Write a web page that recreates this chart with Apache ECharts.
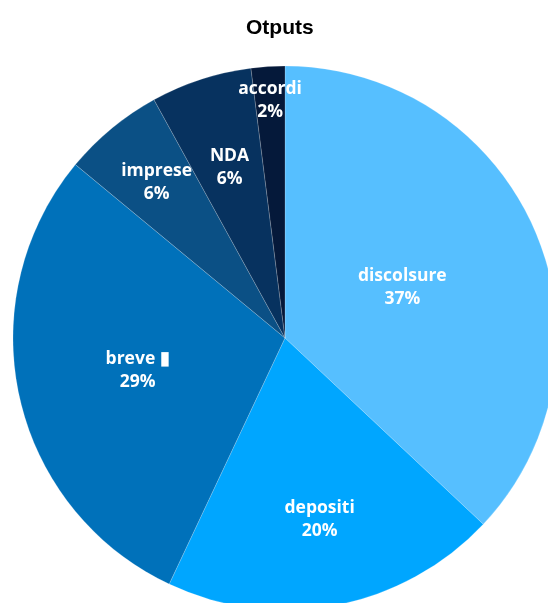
<!DOCTYPE html>
<html>
<head>
<meta charset="utf-8">
<style>
  html, body { margin: 0; padding: 0; background: #ffffff; }
  #chart { width: 548px; height: 603px; }
</style>
<script src="https://cdn.jsdelivr.net/npm/echarts@6/dist/echarts.min.js"></script>
</head>
<body>
<div id="chart"></div>
<script>
// Output shares by type, clockwise from 12 o'clock
const categories = ['discolsure', 'depositi', 'breve \u25AE', 'imprese', 'NDA', 'accordi'];
const shares = [37, 20, 29, 6, 6, 2];
const sliceColors = ['#56BFFF', '#00A6FF', '#0071BA', '#0B5085', '#07325F', '#05193A'];
// how far out (fraction of the radius) each label sits along its slice's mid-angle
const labelRadiusRatio = [0.47, 0.68, 0.555, 0.74, 0.66, 0.875];

const cx = 285, cy = 338, R = 272;

const chart = echarts.init(document.getElementById('chart'), null, { renderer: 'canvas' });

const total = shares.reduce((a, b) => a + b, 0);
const midAngles = [];
let acc = 0;
shares.forEach(v => {
  midAngles.push((acc + v / 2) / total * 2 * Math.PI);
  acc += v;
});

chart.setOption({
  backgroundColor: '#ffffff',
  animation: false,
  title: {
    text: 'Otputs',
    left: 241,
    top: 13,
    textStyle: {
      fontFamily: 'Liberation Sans, Arial, sans-serif',
      fontWeight: 'bold',
      fontSize: 21,
      color: '#000000'
    }
  },
  series: [{
    type: 'pie',
    center: [cx, cy],
    radius: [0, R],
    startAngle: 90,
    clockwise: true,
    avoidLabelOverlap: false,
    itemStyle: { borderColor: 'rgba(255,255,255,0.3)', borderWidth: 0.6 },
    label: {
      show: true,
      position: 'inside',
      formatter: p => p.name + '\n' + p.value + '%',
      color: '#ffffff',
      fontFamily: 'Open Sans, sans-serif',
      fontWeight: 'bold',
      fontSize: 17.5,
      lineHeight: 23,
      align: 'center'
    },
    labelLine: { show: false },
    labelLayout: function (params) {
      const i = params.dataIndex;
      const a = midAngles[i];
      const r = R * labelRadiusRatio[i];
      return {
        x: cx + r * Math.sin(a),
        y: cy - r * Math.cos(a),
        align: 'center',
        verticalAlign: 'middle'
      };
    },
    emphasis: { disabled: true },
    data: categories.map((name, i) => ({
      name: name,
      value: shares[i],
      itemStyle: { color: sliceColors[i] }
    }))
  }]
});
</script>
</body>
</html>
